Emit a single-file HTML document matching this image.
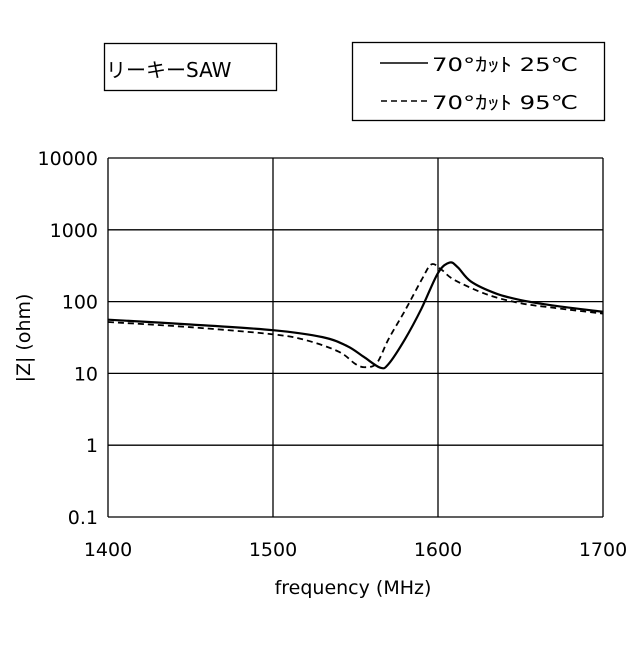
<!DOCTYPE html>
<html><head><meta charset="utf-8"><style>
body{margin:0;background:#fff}
svg text{font-family:"DejaVu Sans","Noto Sans CJK JP",sans-serif;fill:#000}
</style></head><body>
<svg width="640" height="640" viewBox="0 0 640 640">
<rect width="640" height="640" fill="#fff"/>
<g>
<rect x="104.5" y="43.5" width="172" height="47" fill="none" stroke="#000" stroke-width="1.3"/>
<text x="106" y="77" font-size="20">リーキーSAW</text>
</g>
<g>
<rect x="352.5" y="42.5" width="252" height="78" fill="none" stroke="#000" stroke-width="1.3"/>
<g>
<line x1="380" y1="63" x2="428" y2="63" stroke="#000" stroke-width="1.5"/>
<text x="432" y="71" font-size="19" textLength="146" lengthAdjust="spacingAndGlyphs">70°ｶｯﾄ  25℃</text></g>
<g>
<line x1="381" y1="101" x2="428" y2="101" stroke="#000" stroke-width="1.5" stroke-dasharray="6,4"/>
<text x="432" y="109" font-size="19" textLength="146" lengthAdjust="spacingAndGlyphs">70°ｶｯﾄ  95℃</text></g>
</g>
<g id="grid"></g>
<g id="marks"></g>
<g id="ticks"></g>
<text x="353" y="594" font-size="19" text-anchor="middle">frequency  (MHz)</text>
<text transform="translate(30,338) rotate(-90)" font-size="19" text-anchor="middle">|Z|  (ohm)</text>
</svg>
<script>
const xTicks=[1400,1500,1600,1700];
const yTicks=[0.1,1,10,100,1000,10000];
const yTickLabels=["0.1","1","10","100","1000","10000"];
const freq25=[1400,1450,1500,1530,1545,1555,1565,1570,1580,1590,1600,1607,1612,1620,1635,1650,1670,1700];
const z25=[56,48,40,32,24,17,12,13.5,30,80,250,350,300,190,130,105,88,72];
const freq95=[1400,1450,1500,1520,1540,1550,1556,1563,1570,1580,1590,1596,1602,1610,1630,1650,1670,1700];
const z95=[52,44,35,29,20,13.5,12.2,14,30,75,200,330,280,200,125,95,82,68];
const X0=108,X1=603,Y0=517,Y1=158;
const xs=f=>X0+(f-1400)/300*(X1-X0);
const ys=v=>Y0-(Math.log10(v)+1)/5*(Y0-Y1);
const NS="http://www.w3.org/2000/svg";
function mk(t,a,p){const e=document.createElementNS(NS,t);for(const k in a)e.setAttribute(k,a[k]);p.appendChild(e);return e;}
const grid=document.getElementById('grid'),ticks=document.getElementById('ticks'),marks=document.getElementById('marks');
xTicks.forEach(f=>{const l=mk('line',{x1:xs(f),x2:xs(f),y1:Y1,y2:Y0,stroke:'#000','stroke-width':1.3},grid);


const t=mk('text',{x:xs(f),y:556,'font-size':19,'text-anchor':'middle'},ticks);t.textContent=f;

});
yTicks.forEach((v,i)=>{const l=mk('line',{x1:X0,x2:X1,y1:ys(v),y2:ys(v),stroke:'#000','stroke-width':1.3},grid);


const t=mk('text',{x:98,y:ys(v)+7,'font-size':19,'text-anchor':'end'},ticks);t.textContent=yTickLabels[i];

});
function path(fs,zs){const p=fs.map((f,i)=>[xs(f),ys(zs[i])]);let d='M'+p[0][0]+','+p[0][1];
for(let i=0;i<p.length-1;i++){const a=p[Math.max(0,i-1)],b=p[i],c=p[i+1],e=p[Math.min(p.length-1,i+2)];
d+=' C'+(b[0]+(c[0]-a[0])/6)+','+(b[1]+(c[1]-a[1])/6)+' '+(c[0]-(e[0]-b[0])/6)+','+(c[1]-(e[1]-b[1])/6)+' '+c[0]+','+c[1];}return d;}
const s1=mk('path',{d:path(freq25,z25),fill:'none',stroke:'#000','stroke-width':2.2},marks);


const s2=mk('path',{d:path(freq95,z95),fill:'none',stroke:'#000','stroke-width':1.8,'stroke-dasharray':'6,4'},marks);


</script>
</body></html>
